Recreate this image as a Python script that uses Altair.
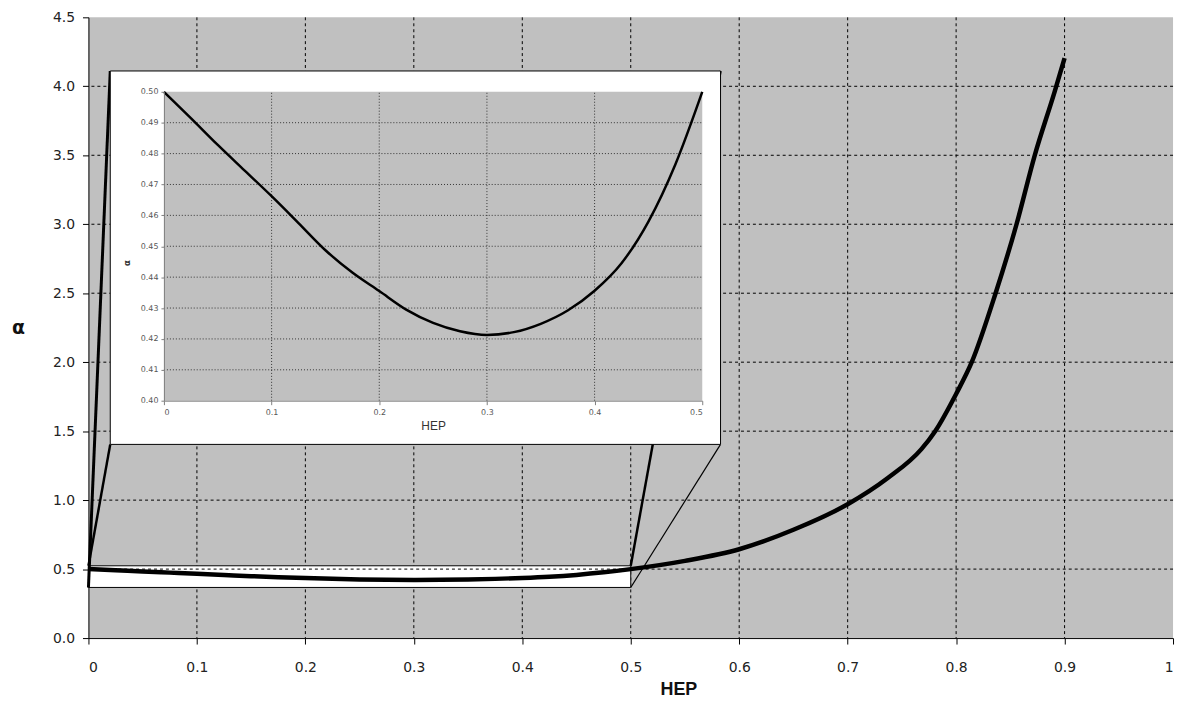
import altair as alt
import pandas as pd

# ---------------- data ----------------
hep_low = [0.0, 0.025, 0.05, 0.075, 0.1, 0.125, 0.15, 0.175, 0.2, 0.225, 0.25, 0.275,
           0.3, 0.325, 0.35, 0.375, 0.4, 0.425, 0.45, 0.475, 0.5]
alpha_low = [0.5, 0.4915, 0.4828, 0.4745, 0.4662, 0.4575, 0.4487, 0.4415, 0.4355, 0.4295,
             0.4252, 0.4225, 0.4213, 0.4222, 0.4249, 0.4292, 0.4356, 0.4445, 0.458, 0.4765, 0.5]
hep_high = [0.55, 0.6, 0.65, 0.7, 0.737, 0.768, 0.7807, 0.8, 0.8144, 0.8364, 0.8557, 0.8725, 0.8908, 0.9]
alpha_high = [0.56, 0.644, 0.785, 0.97, 1.16, 1.37, 1.5, 1.77, 2.0, 2.5, 3.0, 3.5, 3.96, 4.204]

main_x_ticks = [0.0, 0.1, 0.2, 0.3, 0.4, 0.5, 0.6, 0.7, 0.8, 0.9, 1.0]
main_y_ticks = [0.0, 0.5, 1.0, 1.5, 2.0, 2.5, 3.0, 3.5, 4.0, 4.5]
inset_x_ticks = [0.0, 0.1, 0.2, 0.3, 0.4, 0.5]
inset_y_ticks = [0.40, 0.41, 0.42, 0.43, 0.44, 0.45, 0.46, 0.47, 0.48, 0.49, 0.50]

# zoom rectangle and inset frame, in main data units
ZX0, ZX1, ZY0, ZY1 = 0.0, 0.5, 0.367, 0.524
IX0, IX1, IY0, IY1 = 0.0201, 0.5828, 1.404, 4.111

W, H = 1092, 625
INSET_XR = [76, 618]
INSET_YR = [386, 75]

FONT = "DejaVu Sans"
GRAY = "#C0C0C0"

main_curve = pd.DataFrame({"hep": hep_low + hep_high, "alpha": alpha_low + alpha_high})
inset_curve = pd.DataFrame({"hep": hep_low, "alpha": alpha_low})


def xs():
    return alt.Scale(domain=[0, 1], nice=False, zero=False)


def ys():
    return alt.Scale(domain=[0, 4.5], nice=False, zero=False)


def ixs():
    return alt.Scale(domain=[0, 0.5], nice=False, zero=False, range=INSET_XR)


def iys():
    return alt.Scale(domain=[0.4, 0.5], nice=False, zero=False, range=INSET_YR)


# ---------------- main panel ----------------
gx = alt.Chart(pd.DataFrame({"v": main_x_ticks[1:-1]})).mark_rule(
    color="black", strokeWidth=1, strokeDash=[3, 3]
).encode(x=alt.X("v:Q", scale=xs(), axis=None))
gy = alt.Chart(pd.DataFrame({"v": main_y_ticks[1:-1]})).mark_rule(
    color="black", strokeWidth=1, strokeDash=[3, 3]
).encode(y=alt.Y("v:Q", scale=ys(), axis=None))

zoom_box = alt.Chart(pd.DataFrame({"x": [ZX0], "x2": [ZX1], "y": [ZY0], "y2": [ZY1]})).mark_rect(
    fill="white", stroke="black", strokeWidth=1
).encode(x=alt.X("x:Q", scale=xs(), axis=None), x2="x2:Q",
         y=alt.Y("y:Q", scale=ys(), axis=None), y2="y2:Q")

box_dash = alt.Chart(pd.DataFrame({"x": [ZX0], "x2": [ZX1], "y": [0.5]})).mark_rule(
    color="black", strokeWidth=1, strokeDash=[3, 3]
).encode(x=alt.X("x:Q", scale=xs(), axis=None), x2="x2:Q",
         y=alt.Y("y:Q", scale=ys(), axis=None))

callouts = pd.DataFrame({
    "x": [ZX0, ZX0, ZX1, ZX1],
    "y": [ZY0, ZY1, ZY1, ZY0],
    "x2": [IX0, IX0, IX1, IX1],
    "y2": [IY1, IY0, IY1, IY0],
    "w": [3.0, 2.5, 2.5, 1.2],
})
call = alt.Chart(callouts).mark_rule(color="black").encode(
    x=alt.X("x:Q", scale=xs(), axis=None), x2="x2:Q",
    y=alt.Y("y:Q", scale=ys(), axis=None), y2="y2:Q",
    strokeWidth=alt.StrokeWidth("w:Q", scale=None),
)

curve = alt.Chart(main_curve).mark_line(color="black", strokeWidth=4.5, interpolate="monotone").encode(
    x=alt.X("hep:Q", scale=xs(), axis=alt.Axis(
        orient="bottom", values=main_x_ticks, grid=False,
        labelExpr="datum.value == 0 ? '0' : datum.value == 1 ? '1' : format(datum.value, '.1f')",
        domainColor="black", tickColor="black", tickSize=6, labelPadding=17,
        labelFont=FONT, labelFontSize=14, labelColor="#222",
        title="HEP", titleFont="Liberation Sans", titleFontSize=18, titleFontWeight="bold",
        titleColor="#111", titleX=594, titleY=52, titleBaseline="middle",
    )),
    y=alt.Y("alpha:Q", scale=ys(), axis=alt.Axis(
        orient="left", values=main_y_ticks, grid=False, format=".1f",
        domainColor="black", tickColor="black", tickSize=6, labelPadding=8,
        labelFont=FONT, labelFontSize=14, labelColor="#222",
        title="α", titleAngle=0, titleFont=FONT, titleFontSize=19, titleFontWeight="bold",
        titleColor="#111", titleX=-71, titleY=312, titleAlign="center", titleBaseline="middle",
    )),
)

inset_box = alt.Chart(pd.DataFrame({"x": [IX0], "x2": [IX1], "y": [IY0], "y2": [IY1]})).mark_rect(
    fill="white", stroke="black", strokeWidth=1
).encode(x=alt.X("x:Q", scale=xs(), axis=None), x2="x2:Q",
         y=alt.Y("y:Q", scale=ys(), axis=None), y2="y2:Q")

# ---------------- inset panel ----------------
ibg = alt.Chart(pd.DataFrame({"x": [0.0], "x2": [0.5], "y": [0.4], "y2": [0.5]})).mark_rect(
    fill=GRAY
).encode(x=alt.X("x:Q", scale=ixs(), axis=None), x2="x2:Q",
         y=alt.Y("y:Q", scale=iys(), axis=None), y2="y2:Q")

igy = alt.Chart(pd.DataFrame({"v": inset_y_ticks[1:-1], "a": 0.0, "b": 0.5})).mark_rule(
    color="#333", strokeWidth=1, strokeDash=[1, 2]
).encode(y=alt.Y("v:Q", scale=iys(), axis=None),
         x=alt.X("a:Q", scale=ixs(), axis=None), x2="b:Q")
igx = alt.Chart(pd.DataFrame({"v": inset_x_ticks[1:-1], "a": 0.4, "b": 0.5})).mark_rule(
    color="#333", strokeWidth=1, strokeDash=[1, 2]
).encode(x=alt.X("v:Q", scale=ixs(), axis=None),
         y=alt.Y("a:Q", scale=iys(), axis=None), y2="b:Q")

icurve = alt.Chart(inset_curve).mark_line(color="black", strokeWidth=2.5, interpolate="monotone").encode(
    x=alt.X("hep:Q", scale=ixs(), axis=alt.Axis(
        orient="bottom", offset=-(H - INSET_YR[0]), values=inset_x_ticks, grid=False, zindex=2,
        labelExpr="datum.value == 0 ? '0' : format(datum.value, '.1f')",
        domainColor="#808080", tickColor="#808080", tickSize=4, labelPadding=4,
        labelFont=FONT, labelFontSize=8, labelColor="#555",
        title="HEP", titleFont="Liberation Sans", titleFontSize=12, titleFontWeight="normal",
        titleColor="#333", titlePadding=4,
    )),
    y=alt.Y("alpha:Q", scale=iys(), axis=alt.Axis(
        orient="left", offset=-INSET_XR[0], values=inset_y_ticks, grid=False, format=".2f", zindex=2,
        domainColor="#808080", tickColor="#808080", tickSize=3, labelPadding=3,
        labelFont=FONT, labelFontSize=8, labelColor="#555",
        title="α", titleFont=FONT, titleFontSize=9, titleFontWeight="bold",
        titleColor="#333", titleAngle=270, titleX=-38, titleY=247,
        titleAlign="center", titleBaseline="middle",
    )),
)

chart = alt.layer(
    gx, gy, zoom_box, box_dash, call, curve, inset_box, ibg, igy, igx, icurve
).resolve_scale(
    x="independent", y="independent"
).properties(
    width=W, height=H,
    padding={"left": 81, "top": 7, "right": 5, "bottom": 66},
    autosize=alt.AutoSizeParams(type="none"),
    background="white",
).configure_view(fill=GRAY, stroke=None)

chart.save("out.html", embed_options={"renderer": "svg", "actions": False})
